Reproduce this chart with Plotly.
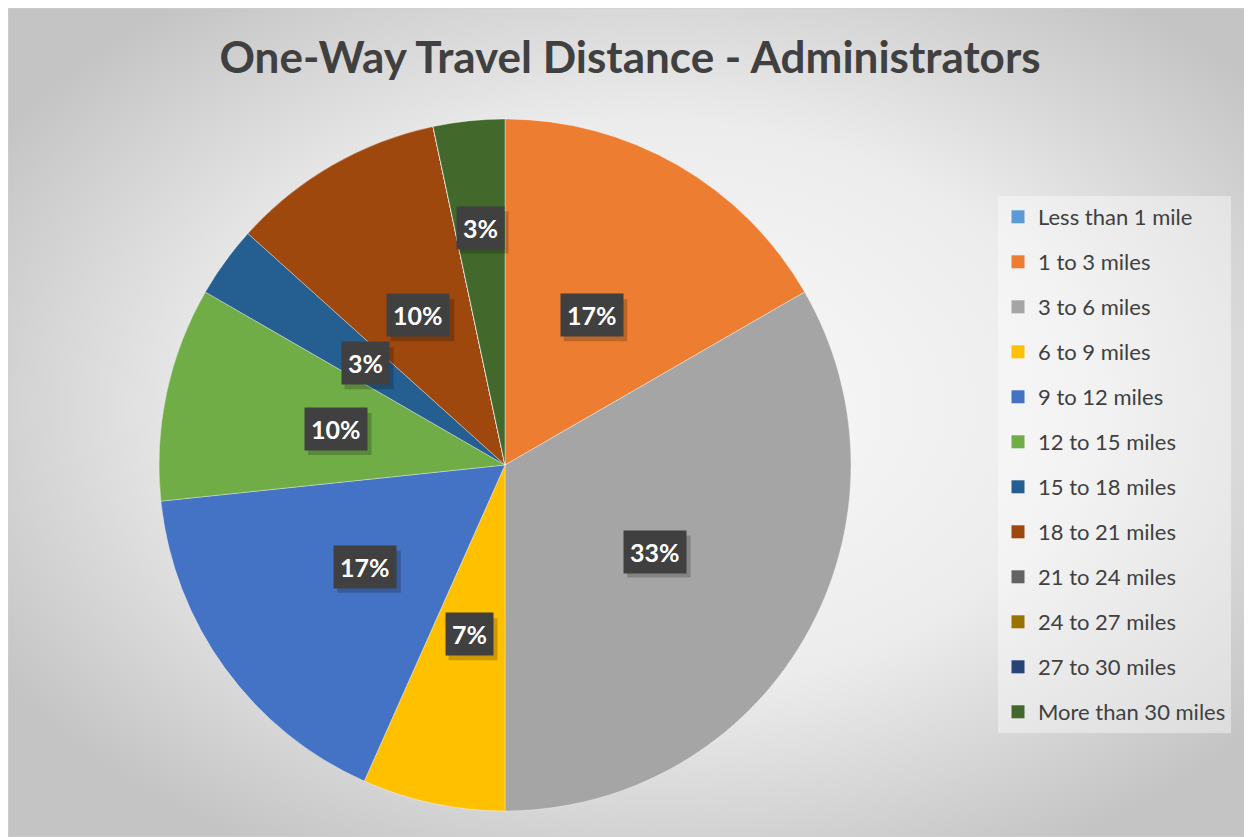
import math
import plotly.graph_objects as go

# 데이터
categories = ["Less than 1 mile", "1 to 3 miles", "3 to 6 miles", "6 to 9 miles",
              "9 to 12 miles", "12 to 15 miles", "15 to 18 miles", "18 to 21 miles",
              "21 to 24 miles", "24 to 27 miles", "27 to 30 miles", "More than 30 miles"]
counts = [0, 5, 10, 2, 5, 3, 1, 3, 0, 0, 0, 1]
colors = ["#5B9BD5", "#ED7D31", "#A5A5A5", "#FFC000", "#4472C4", "#70AD47",
          "#255E91", "#9E480E", "#636363", "#997300", "#264478", "#43682B"]

title_text = "One-Way Travel Distance - Administrators"

# 페이지 body 여백(8px) 만큼 줄인 크기
OFF = 8
W, H = 1252 - OFF, 837 - OFF
# 파이 위치 (그림 픽셀)
cx, cy, R = 505 - OFF, 465 - OFF, 346
dom_x = [(cx - R) / W, (cx + R) / W]
dom_y = [1 - (cy + R) / H, 1 - (cy - R) / H]

# 배경: 방사형 그라디언트 (SVG data URI)
bg_svg = (
    "data:image/svg+xml;utf8,"
    f"<svg xmlns='http://www.w3.org/2000/svg' width='{W}' height='{H}'>"
    "<defs><radialGradient id='g' cx='52%' cy='48%' r='62%'>"
    "<stop offset='0' stop-color='%23fafafa'/>"
    "<stop offset='0.55' stop-color='%23ececec'/>"
    "<stop offset='1' stop-color='%23c4c4c4'/>"
    "</radialGradient></defs>"
    f"<rect width='{W}' height='{H}' fill='url(%23g)'/></svg>"
)

fig = go.Figure()

fig.add_trace(go.Pie(
    labels=categories,
    values=counts,
    sort=False,
    direction="clockwise",
    rotation=0,
    marker=dict(colors=colors, line=dict(color="rgba(255,255,255,0.5)", width=0.7)),
    textinfo="none",
    hoverinfo="label+percent",
    showlegend=False,
    domain=dict(x=dom_x, y=dom_y),
))

# 범례용 더미 트레이스
for name, col in zip(categories, colors):
    fig.add_trace(go.Scatter(
        x=[None], y=[None], mode="markers", name=name,
        legendgroup=name,
        marker=dict(symbol="square", size=13, color=col, line=dict(width=0)),
    ))

# 데이터 레이블 (어두운 박스 + 그림자)
total = sum(counts)
label_r = {"More than 30 miles": 0.69}
shapes = [dict(type="rect", xref="paper", yref="paper", x0=0, y0=0, x1=1, y1=1,
               line=dict(color="#d0d0d0", width=1), fillcolor="rgba(0,0,0,0)")]
cum = 0
for name, v in zip(categories, counts):
    if v == 0:
        continue
    mid = (cum + v / 2) / total * 2 * math.pi
    cum += v
    rr = label_r.get(name, 0.5) * R
    px_ = cx + rr * math.sin(mid)
    py_ = cy - rr * math.cos(mid)
    pct = f"{round(v / total * 100)}%"
    # 그림자 박스 크기는 글자 수로 대략 계산
    bw, bh = 14.5 * len(pct) + 20, 42
    sx, sy = px_ + 4, py_ + 5
    shapes.append(dict(type="rect", xref="paper", yref="paper",
                       x0=(sx - bw / 2) / W, x1=(sx + bw / 2) / W,
                       y0=1 - (sy + bh / 2) / H, y1=1 - (sy - bh / 2) / H,
                       fillcolor="rgba(0,0,0,0.2)", line=dict(width=0), layer="above"))
    fig.add_annotation(
        x=px_ / W, y=1 - py_ / H, xref="paper", yref="paper",
        xanchor="center", yanchor="middle",
        text=f"<b>{pct}</b>", showarrow=False, bgcolor="#404040", borderpad=6,
        font=dict(family="Lato", size=25, color="white"),
    )

fig.update_layout(
    width=W, height=H,
    margin=dict(l=0, r=0, t=0, b=0),
    paper_bgcolor="#d9d9d9",
    plot_bgcolor="rgba(0,0,0,0)",
    xaxis=dict(visible=False), yaxis=dict(visible=False),
    title=dict(text=f"<b>{title_text}</b>", x=(630 - OFF) / W, xanchor="center",
               y=1 - (58 - OFF) / H, yanchor="middle",
               font=dict(family="Lato", size=44, color="#404040")),
    legend=dict(x=(998 - OFF) / W, xanchor="left", y=1 - (196 - OFF) / H, yanchor="top",
                bgcolor="rgba(255,255,255,0.4)", font=dict(family="Lato", size=22, color="#404040"),
                tracegroupgap=13.4, itemwidth=30),
    images=[dict(source=bg_svg, xref="paper", yref="paper", x=0, y=1, sizex=1, sizey=1,
                 sizing="stretch", layer="below", xanchor="left", yanchor="top")],
    shapes=shapes,
)

fig.write_html("out.html")
